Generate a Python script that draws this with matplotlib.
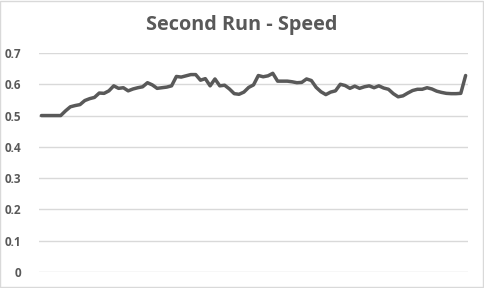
import matplotlib
matplotlib.use("Agg")
import matplotlib.pyplot as plt
import numpy as np

# speed readings, one per sample
speed = [
    0.500, 0.500, 0.500, 0.500, 0.500, 0.515, 0.528, 0.532, 0.535, 0.548,
    0.554, 0.558, 0.572, 0.571, 0.579, 0.595, 0.587, 0.589, 0.579, 0.585,
    0.589, 0.592, 0.605, 0.598, 0.587, 0.589, 0.591, 0.595, 0.625, 0.623,
    0.627, 0.631, 0.631, 0.613, 0.618, 0.595, 0.617, 0.595, 0.597, 0.585,
    0.570, 0.568, 0.575, 0.590, 0.598, 0.628, 0.624, 0.627, 0.635, 0.610,
    0.610, 0.610, 0.608, 0.605, 0.606, 0.617, 0.612, 0.590, 0.576, 0.567,
    0.575, 0.579, 0.600, 0.596, 0.587, 0.594, 0.587, 0.592, 0.595, 0.589,
    0.595, 0.588, 0.584, 0.570, 0.560, 0.563, 0.572, 0.580, 0.584, 0.584,
    0.589, 0.585, 0.578, 0.574, 0.571, 0.570, 0.570, 0.571, 0.628,
]
y_ticks = [0, 0.1, 0.2, 0.3, 0.4, 0.5, 0.6, 0.7]
y_labels = ["0", "0.1", "0.2", "0.3", "0.4", "0.5", "0.6", "0.7"]

txt = "#595959"
grid = "#d9d9d9"

fig = plt.figure(figsize=(4.84, 2.88), dpi=100)
ax = fig.add_axes([0.0806, 0.0556, 0.8864, 0.7604])

x = np.arange(len(speed))
ax.plot(x, speed, color=txt, lw=2.5, solid_joinstyle="round", solid_capstyle="round")

ax.set_xlim(-0.5, len(speed) - 0.5)
ax.set_ylim(0, 0.7)
ax.set_yticks(y_ticks)
ax.set_yticklabels(y_labels)
ax.set_xticks([])
ax.yaxis.grid(True, color=grid, lw=1)
ax.set_axisbelow(True)
for s in ax.spines.values():
    s.set_visible(False)
ax.tick_params(axis="y", length=0, pad=13, labelsize=8.5, labelcolor=txt)
for lab in ax.get_yticklabels():
    lab.set_fontfamily("Open Sans")
    lab.set_fontweight("bold")

fig.text(0.5, 0.912, "Second Run - Speed", ha="center", va="center",
         fontsize=14.3, fontweight="bold", color=txt, family="Open Sans")

# light chart border
fig.patches.append(plt.Rectangle((0.001, 0.002), 0.997, 0.995, transform=fig.transFigure,
                                 fill=False, edgecolor=grid, lw=1))

fig.savefig("out.png", dpi=100)
